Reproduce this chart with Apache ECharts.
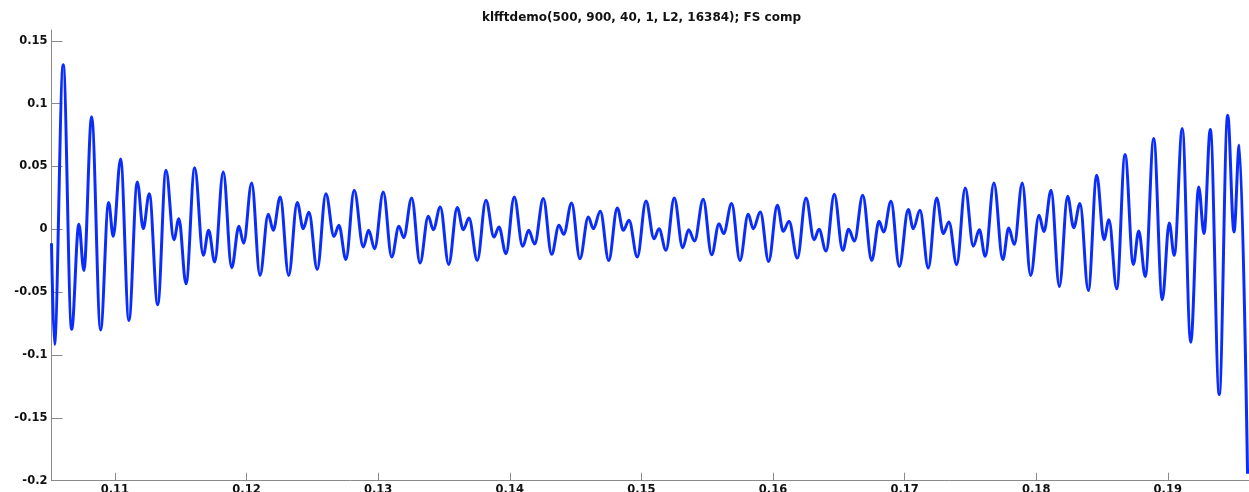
<!DOCTYPE html>
<html>
<head>
<meta charset="utf-8">
<script src="https://cdn.jsdelivr.net/npm/echarts@6/dist/echarts.min.js"></script>
<style>
html,body{margin:0;padding:0;background:#fff;}
#chart{width:1249px;height:492px;}
</style>
</head>
<body>
<div id="chart"></div>
<script>
// Values (local extrema of the curve)
var xValues = [
0.10518,0.10540,0.10607,0.10671,0.10726,0.10764,0.10823,0.10891,0.10952,0.10987,
0.11043,0.11106,0.11170,0.11215,0.11261,0.11325,0.11388,0.11448,0.11486,0.11540,
0.11606,0.11671,0.11712,0.11758,0.11823,0.11887,0.11942,0.11978,0.12039,0.12102,
0.12165,0.12203,0.12256,0.12320,0.12385,0.12431,0.12474,0.12537,0.12603,0.12664,
0.12702,0.12755,0.12818,0.12887,0.12928,0.12973,0.13039,0.13103,0.13158,0.13194,
0.13255,0.13318,0.13381,0.13419,0.13472,0.13536,0.13601,0.13647,0.13690,0.13753,
0.13819,0.13880,0.13918,0.13971,0.14034,0.14098,0.14144,0.14189,0.14255,0.14318,
0.14374,0.14410,0.14470,0.14533,0.14597,0.14635,0.14688,0.14752,0.14817,0.14863,
0.14906,0.14969,0.15035,0.15096,0.15134,0.15187,0.15250,0.15314,0.15359,0.15404,
0.15470,0.15534,0.15590,0.15625,0.15686,0.15749,0.15812,0.15850,0.15904,0.15967,
0.16033,0.16078,0.16122,0.16185,0.16251,0.16312,0.16350,0.16403,0.16466,0.16530,
0.16575,0.16619,0.16682,0.16750,0.16806,0.16841,0.16897,0.16960,0.17028,0.17066,
0.17117,0.17180,0.17244,0.17294,0.17337,0.17396,0.17461,0.17522,0.17568,0.17613,
0.17679,0.17746,0.17791,0.17834,0.17894,0.17958,0.18021,0.18059,0.18113,0.18176,
0.18239,0.18285,0.18333,0.18396,0.18460,0.18515,0.18553,0.18612,0.18675,0.18738,
0.18779,0.18829,0.18893,0.18958,0.19011,0.19049,0.19110,0.19174,0.19235,0.19275,
0.19323,0.19391,0.19455,0.19503,0.19543,0.19606
];
var yValues = [
-0.0110,-0.0915,0.1310,-0.0795,0.0040,-0.0327,0.0895,-0.0800,0.0213,-0.0056,
0.0560,-0.0725,0.0377,0.0005,0.0284,-0.0600,0.0470,-0.0082,0.0085,-0.0433,
0.0489,-0.0207,-0.0008,-0.0260,0.0457,-0.0305,0.0024,-0.0110,0.0369,-0.0367,
0.0120,-0.0008,0.0258,-0.0367,0.0213,0.0005,0.0135,-0.0320,0.0284,-0.0056,
0.0032,-0.0240,0.0310,-0.0140,-0.0008,-0.0154,0.0297,-0.0220,0.0024,-0.0066,
0.0250,-0.0268,0.0104,-0.0003,0.0178,-0.0279,0.0173,-0.0003,0.0090,-0.0247,
0.0231,-0.0061,0.0019,-0.0194,0.0258,-0.0135,-0.0008,-0.0117,0.0245,-0.0199,
0.0032,-0.0040,0.0210,-0.0234,0.0098,0.0005,0.0143,-0.0247,0.0170,-0.0008,
0.0072,-0.0220,0.0226,-0.0074,0.0005,-0.0167,0.0250,-0.0146,-0.0003,-0.0093,
0.0239,-0.0202,0.0045,-0.0034,0.0205,-0.0247,0.0120,0.0005,0.0138,-0.0255,
0.0191,-0.0016,0.0064,-0.0229,0.0250,-0.0082,0.0000,-0.0173,0.0279,-0.0167,
0.0000,-0.0093,0.0271,-0.0247,0.0064,-0.0021,0.0223,-0.0295,0.0157,0.0005,
0.0151,-0.0308,0.0250,-0.0034,0.0059,-0.0281,0.0329,-0.0135,-0.0003,-0.0215,
0.0369,-0.0241,0.0010,-0.0120,0.0369,-0.0367,0.0112,-0.0018,0.0311,-0.0454,
0.0263,0.0013,0.0205,-0.0486,0.0430,-0.0082,0.0077,-0.0473,0.0595,-0.0279,
-0.0013,-0.0375,0.0723,-0.0560,0.0050,-0.0207,0.0802,-0.0898,0.0337,-0.0034,
0.0794,-0.1315,0.0908,-0.0021,0.0669,-0.1945
];
var xTicks = [0.11, 0.12, 0.13, 0.14, 0.15, 0.16, 0.17, 0.18, 0.19];
var yTicks = [-0.2, -0.15, -0.1, -0.05, 0, 0.05, 0.1, 0.15];
var titleText = 'klfftdemo(500, 900, 40, 1, L2, 16384); FS comp';

var points = xValues.map(function (x, i) { return [x, yValues[i]]; });

var chart = echarts.init(document.getElementById('chart'), null, {renderer: 'canvas'});
var labelFont = {fontFamily: 'DejaVu Sans', fontWeight: 'bold', fontSize: 11.5, color: '#111'};
function fmt(v) { return String(+v.toFixed(4)); }
chart.setOption({
  animation: false,
  backgroundColor: '#fff',
  title: {
    text: titleText,
    left: 482,
    top: 12,
    padding: 0,
    textStyle: {fontFamily: 'DejaVu Sans', fontWeight: 'bold', fontSize: 12, color: '#111'}
  },
  grid: {left: 51.5, right: 0, top: 30, bottom: 11.3, containLabel: false, outerBoundsMode: 'none'},
  xAxis: {
    type: 'value',
    min: 0.10518,
    max: 0.19617,
    axisLine: {show: true, onZero: false, lineStyle: {color: '#8a8a8a', width: 1}},
    axisTick: {show: true, inside: true, length: 8, customValues: xTicks, lineStyle: {color: '#8a8a8a'}},
    axisLabel: Object.assign({margin: 3, customValues: xTicks, formatter: fmt}, labelFont),
    splitLine: {show: false}
  },
  yAxis: {
    type: 'value',
    min: -0.2,
    max: 0.1586,
    axisLine: {show: true, onZero: false, lineStyle: {color: '#8a8a8a', width: 1}},
    axisTick: {show: true, inside: true, length: 11, customValues: yTicks, lineStyle: {color: '#8a8a8a'}},
    axisLabel: Object.assign({margin: 4, customValues: yTicks, formatter: fmt}, labelFont),
    splitLine: {show: false}
  },
  series: [{
    type: 'line',
    data: points,
    showSymbol: false,
    symbol: 'none',
    smooth: 0.36,
    smoothMonotone: 'x',
    clip: true,
    lineStyle: {color: '#0b2dfc', width: 3}
  }]
});
</script>
</body>
</html>
